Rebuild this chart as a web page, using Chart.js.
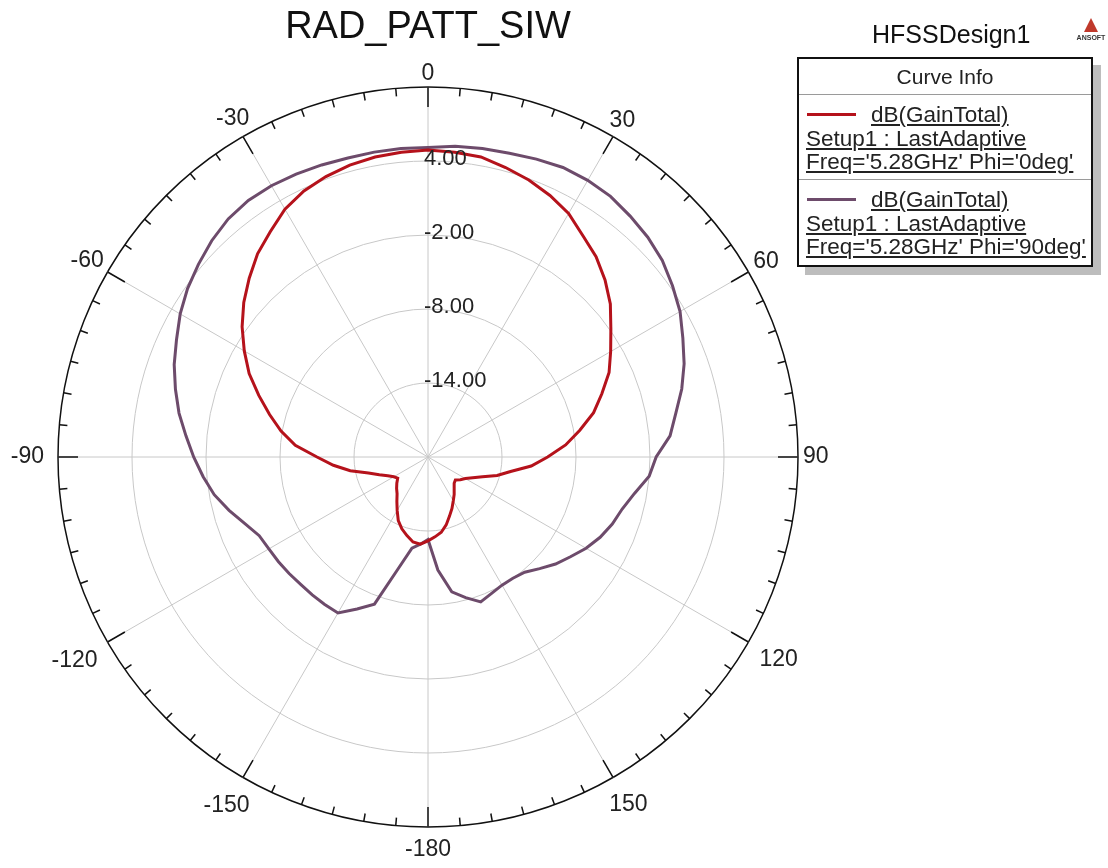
<!DOCTYPE html>
<html>
<head>
<meta charset="utf-8">
<title>RAD_PATT_SIW</title>
<script src="https://cdn.jsdelivr.net/npm/chart.js@4.4.1/dist/chart.umd.min.js"></script>
<style>
  body { margin: 0; background: #fff; font-family: "Liberation Sans", Arial, sans-serif; color: #222; }
  #wrap { position: relative; width: 1108px; height: 868px; overflow: hidden; }
  #polar { position: absolute; left: 0; top: 0; }
  .title { position: absolute; left: 0; width: 856px; top: 6px; text-align: center; font-size: 38px; line-height: 38px; color: #111; }
  .design { position: absolute; left: 872px; top: 22px; font-size: 25px; line-height: 25px; color: #111; }
  .logo { position: absolute; left: 1074px; top: 18px; width: 34px; text-align: center; }
  .logo .tri { width: 0; height: 0; margin: 0 auto; border-left: 7px solid transparent; border-right: 7px solid transparent; border-bottom: 14px solid #c0392b; }
  .logo span { display: block; font-size: 7px; font-weight: bold; color: #333; margin-top: 2px; }
  .legend { position: absolute; left: 797px; top: 57px; width: 292px; height: 206px; border: 2px solid #111; background: #fff; box-shadow: 8px 8px 0 #bdbdbd; }
  .legend .head { height: 35px; line-height: 36px; text-align: center; font-size: 21px; border-bottom: 1px solid #9a9a9a; }
  .legend .entry { position: relative; height: 84px; padding: 8px 0 0 7px; box-sizing: border-box; font-size: 22.5px; line-height: 23.5px; }
  .legend .entry + .entry { border-top: 1px solid #9a9a9a; }
  .legend .entry div { text-decoration: underline; white-space: nowrap; }
  .legend .entry .first { padding-left: 65px; position: relative; }
  .legend .swatch { position: absolute; left: 1px; top: 10px; width: 49px; height: 3px; }
</style>
</head>
<body>
<div id="wrap">
  <canvas id="polar" width="1108" height="868"></canvas>
  <div class="title">RAD_PATT_SIW</div>
  <div class="design">HFSSDesign1</div>
  <div class="logo"><div class="tri"></div><span>ANSOFT</span></div>
  <div class="legend">
    <div class="head">Curve Info</div>
    <div class="entry">
      <div class="first"><i class="swatch" style="background:#b5121b"></i>dB(GainTotal)</div>
      <div>Setup1 : LastAdaptive</div>
      <div>Freq='5.28GHz' Phi='0deg'</div>
    </div>
    <div class="entry">
      <div class="first"><i class="swatch" style="background:#6d4b6b"></i>dB(GainTotal)</div>
      <div>Setup1 : LastAdaptive</div>
      <div>Freq='5.28GHz' Phi='90deg'</div>
    </div>
  </div>
</div>

<script>
// Theta in degrees, clockwise from the top, every 5 deg
const angles = [
  0, 5, 10, 15, 20, 25, 30, 35, 40, 45, 50, 55, 60, 65, 70, 75, 80, 85,
  90, 95, 100, 105, 110, 115, 120, 125, 130, 135, 140, 145, 150, 155, 160, 165, 170, 175,
  180, 185, 190, 195, 200, 205, 210, 215, 220, 225, 230, 235, 240, 245, 250, 255, 260, 265,
  270, 275, 280, 285, 290, 295, 300, 305, 310, 315, 320, 325, 330, 335, 340, 345, 350, 355
];
const angleLabels = angles.map(a => String(a < 180 ? a : a - 360));

// dB(GainTotal), Phi = 0deg
const gainPhi0 = [
  4.9, 4.8, 4.7, 4.3, 3.9, 3.4, 2.8, 1.9, 1.2, 0.3, -0.7, -1.9, -2.9, -3.8, -5.0, -6.1, -7.5, -8.8,
  -10.3, -11.6, -13.2, -14.2, -15.3, -16.0, -16.5, -16.8, -17.1, -17.0, -16.7, -16.3, -15.9, -15.4, -14.9, -14.3, -13.8, -13.5,
  -13.2, -12.9, -13.0, -13.4, -13.8, -14.3, -15.0, -15.6, -16.1, -16.4, -16.7, -17.0, -16.8, -16.4, -15.8, -15.0, -13.6, -12.3,
  -11.0, -9.2, -7.9, -6.7, -5.4, -4.0, -2.8, -1.6, -0.5, 0.5, 1.5, 2.3, 3.2, 3.8, 4.2, 4.5, 4.7, 4.8
];

// dB(GainTotal), Phi = 90deg
const gainPhi90 = [
  5.1, 5.3, 5.4, 5.5, 5.7, 5.9, 5.9, 5.8, 5.5, 5.2, 4.8, 4.2, 3.6, 2.8, 2.1, 1.3, 0.4, -0.3,
  -1.5, -2.0, -3.0, -3.7, -4.1, -4.6, -5.2, -5.9, -6.5, -7.2, -7.8, -8.0, -8.0, -7.8, -7.5, -8.2, -8.9, -10.8,
  -13.3, -12.9, -12.5, -10.6, -7.3, -6.4, -5.4, -5.4, -5.4, -5.4, -5.3, -5.2, -5.1, -4.9, -4.2, -3.3, -2.4, -1.7,
  -1.0, -0.3, 0.5, 1.2, 1.9, 2.5, 3.2, 3.8, 4.3, 4.8, 5.2, 5.4, 5.4, 5.3, 5.2, 5.1, 5.1, 5.1
];

// Radial axis (dB)
const radialMin = -20;
const radialMax = 10;
const ringValues = [-14, -8, -2, 4];

const labelFont = '"Liberation Sans", Arial, sans-serif';

// Rim ticks, angle labels and ring values in the HFSS style
const polarDecor = {
  id: 'polarDecor',
  afterDraw(chart) {
    const scale = chart.scales.r;
    const ctx = chart.ctx;
    const r = scale.drawingArea;
    ctx.save();

    ctx.strokeStyle = '#111';
    ctx.lineWidth = 1.5;
    angles.forEach((a, i) => {
      const len = a % 30 === 0 ? 20 : 8;
      const p1 = scale.getPointPosition(i, r);
      const p2 = scale.getPointPosition(i, r - len);
      ctx.beginPath();
      ctx.moveTo(p1.x, p1.y);
      ctx.lineTo(p2.x, p2.y);
      ctx.stroke();
    });

    ctx.fillStyle = '#222';
    ctx.font = '23px ' + labelFont;
    ctx.textAlign = 'center';
    ctx.textBaseline = 'middle';
    angles.forEach((a, i) => {
      if (a % 30 !== 0) return;
      const text = angleLabels[i];
      const rad = a * Math.PI / 180;
      const w = ctx.measureText(text).width;
      const gap = (Math.cos(rad) > 0.1 || Math.sin(rad) > 0.9) ? 5 : 14;
      const d = r + gap + w / 2 * Math.abs(Math.sin(rad)) + 8.5 * Math.abs(Math.cos(rad));
      const p = scale.getPointPosition(i, d);
      ctx.fillText(text, p.x, p.y);
    });

    ctx.font = '22px ' + labelFont;
    ctx.textAlign = 'left';
    ringValues.forEach(v => {
      const p = scale.getPointPositionForValue(0, v);
      ctx.fillText(v.toFixed(2), scale.xCenter - 4, p.y - 2);
    });

    ctx.restore();
  }
};

const ctx = document.getElementById('polar');
new Chart(ctx, {
  type: 'radar',
  data: {
    labels: angleLabels,
    datasets: [
      { label: "Phi='0deg'", data: gainPhi0, borderColor: '#b5121b', borderWidth: 3, pointRadius: 0, fill: false, tension: 0 },
      { label: "Phi='90deg'", data: gainPhi90, borderColor: '#6d4b6b', borderWidth: 3, pointRadius: 0, fill: false, tension: 0 }
    ]
  },
  options: {
    responsive: false,
    animation: false,
    layout: { padding: { left: 58, top: 87, right: 310, bottom: 41 } },
    plugins: { legend: { display: false }, tooltip: { enabled: false } },
    scales: {
      r: {
        min: radialMin,
        max: radialMax,
        ticks: { display: false, stepSize: 6 },
        pointLabels: { display: false },
        grid: {
          circular: true,
          color: c => c.tick.value === radialMax ? '#111' : '#c8c8c8',
          lineWidth: c => c.tick.value === radialMax ? 1.5 : 1
        },
        angleLines: {
          color: c => c.index % 6 === 0 ? '#c8c8c8' : 'rgba(0,0,0,0)',
          lineWidth: c => c.index % 6 === 0 ? 1 : 0
        }
      }
    }
  },
  plugins: [polarDecor]
});
</script>
</body>
</html>
